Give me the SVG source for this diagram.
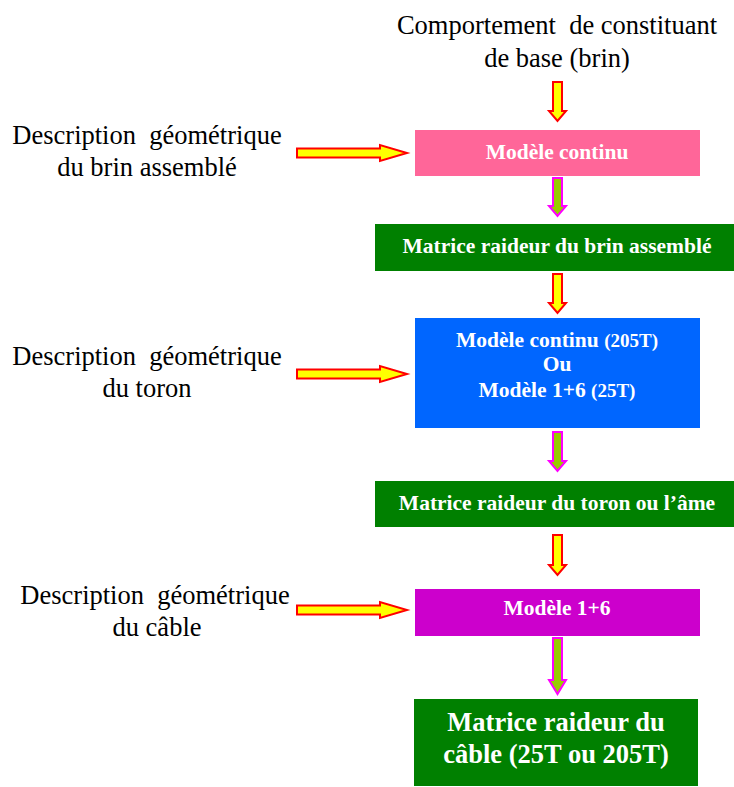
<svg xmlns="http://www.w3.org/2000/svg" width="734" height="787" viewBox="0 0 734 787">
<style>
.lbl{font-family:"Liberation Serif","Times New Roman",serif;font-size:26.5px;fill:#000;text-anchor:middle;white-space:pre}
.bt{font-family:"Liberation Serif","Times New Roman",serif;font-size:21.5px;font-weight:bold;fill:#fff;text-anchor:middle}
.sm{font-size:19px}
.big{font-family:"Liberation Serif","Times New Roman",serif;font-size:26.5px;font-weight:bold;fill:#fff;text-anchor:middle}
.ya{fill:#FFFF00;stroke:#FF0000;stroke-width:2}
.ga{fill:#99CC00;stroke:#FF00FF;stroke-width:2}
</style>
<rect width="734" height="787" fill="#fff"/>
<g id="input-top">
<text class="lbl" x="557" y="34" xml:space="preserve">Comportement  de constituant</text>
<text class="lbl" x="557" y="67">de base (brin)</text>
</g>
<g id="input-brin">
<text class="lbl" x="147" y="144" xml:space="preserve">Description  géométrique</text>
<text class="lbl" x="147" y="176">du brin assemblé</text>
</g>
<g id="input-toron">
<text class="lbl" x="147" y="365" xml:space="preserve">Description  géométrique</text>
<text class="lbl" x="147" y="397">du toron</text>
</g>
<g id="input-cable">
<text class="lbl" x="155" y="604" xml:space="preserve">Description  géométrique</text>
<text class="lbl" x="157" y="636">du câble</text>
</g>
<g id="modele-continu">
<rect x="415" y="130" width="285" height="46" fill="#FF6699"/>
<text class="bt" x="557" y="159">Modèle continu</text>
</g>
<g id="matrice-brin">
<rect x="375" y="224" width="359" height="47" fill="#008000"/>
<text class="bt" x="557" y="253">Matrice raideur du brin assemblé</text>
</g>
<g id="modele-toron">
<rect x="415" y="318" width="285" height="110" fill="#0066FF"/>
<text class="bt" x="557" y="347">Modèle continu <tspan class="sm">(205T)</tspan></text>
<text class="bt" x="557" y="371">Ou</text>
<text class="bt" x="557" y="397">Modèle 1+6 <tspan class="sm">(25T)</tspan></text>
</g>
<g id="matrice-toron">
<rect x="375" y="481" width="359" height="46" fill="#008000"/>
<text class="bt" x="557" y="510">Matrice raideur du toron ou l’âme</text>
</g>
<g id="modele-16">
<rect x="415" y="589" width="285" height="47" fill="#CC00CC"/>
<text class="bt" x="557" y="615">Modèle 1+6</text>
</g>
<g id="matrice-cable">
<rect x="414" y="699" width="284" height="87" fill="#008000"/>
<text class="big" x="556" y="731">Matrice raideur du</text>
<text class="big" x="556" y="763">câble (25T ou 205T)</text>
</g>
<g id="connectors">
<polygon class="ya" points="553,82 562,82 562,111 566,111 557.5,121 549,111 553,111"/>
<polygon class="ga" points="553,178 562,178 562,206 566,206 557.5,216 549,206 553,206"/>
<polygon class="ya" points="553,274 562,274 562,303 566,303 557.5,313 549,303 553,303"/>
<polygon class="ga" points="553,432 562,432 562,461 566,461 557.5,471 549,461 553,461"/>
<polygon class="ya" points="553,535 562,535 562,565 566,565 557.5,575 549,565 553,565"/>
<polygon class="ga" points="553,638 562,638 562,680 566,680 557.5,694 549,680 553,680"/>
<polygon class="ya" points="297,148.5 380,148.5 380,145 407,153 380,161 380,157.5 297,157.5"/>
<polygon class="ya" points="297,369.5 380,369.5 380,366 407,374 380,382 380,378.5 297,378.5"/>
<polygon class="ya" points="297,605.5 380,605.5 380,602 407,610 380,618 380,614.5 297,614.5"/>
</g>
</svg>
